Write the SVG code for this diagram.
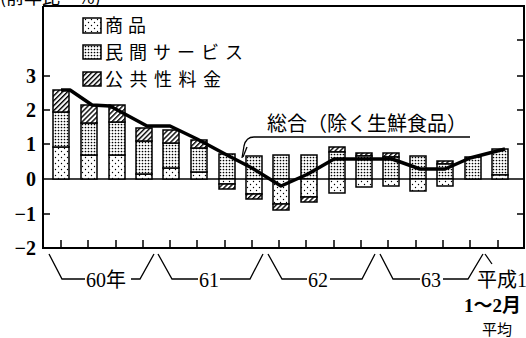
<svg xmlns="http://www.w3.org/2000/svg" width="526" height="338" viewBox="0 0 526 338">
<defs>
<pattern id="pLight" width="6" height="6" patternUnits="userSpaceOnUse">
<rect width="6" height="6" fill="#fff"/>
<circle cx="1.5" cy="1.5" r="0.7" fill="#000"/>
<circle cx="4.5" cy="4.5" r="0.7" fill="#000"/>
</pattern>
<pattern id="pDense" width="3" height="3" patternUnits="userSpaceOnUse">
<rect width="3" height="3" fill="#fff"/>
<circle cx="1.5" cy="1.5" r="0.85" fill="#000"/>
</pattern>
<pattern id="pHatch" width="3.5" height="3.5" patternUnits="userSpaceOnUse" patternTransform="rotate(45)">
<rect width="3.5" height="3.5" fill="#fff"/>
<rect x="0" y="0" width="1.4" height="3.5" fill="#000"/>
</pattern>
</defs>
<style>
.ax{stroke:#000;stroke-width:2;fill:none}
.tk{stroke:#000;stroke-width:1.5;fill:none}
.thin{stroke:#000;stroke-width:1.3;fill:none}
.seg{stroke:#000;stroke-width:1.5}
.l{fill:url(#pLight)}
.d{fill:url(#pDense)}
.h{fill:url(#pHatch)}
.num{font-family:"Liberation Serif",serif;font-size:20px;font-weight:bold;fill:#000}
.jp{font-family:"Noto Sans CJK JP",sans-serif;font-size:18px;fill:#000}
.lbl{font-family:"Liberation Serif","Noto Sans CJK JP",serif;font-size:20px;fill:#000}
</style>
<rect width="526" height="338" fill="#fff"/>

<text class="jp" x="0" y="4" style="font-size:18px">(前年比・%)</text>

<g id="axes">
<path class="ax" d="M43,6 V248 H524 V6 H43"/>
<path class="thin" d="M43,179 H524"/>
<path class="tk" d="M43,76 H50 M43,110 H50 M43,144 H50 M43,214 H50"/>
<path class="tk" d="M524,40 H517 M524,76 H517 M524,110 H517 M524,144 H517 M524,214 H517"/>
<path class="tk" d="M61,248 V240 M88,248 V240 M116,248 V240 M143,248 V240 M170,248 V240 M197,248 V240 M225,248 V240 M252,248 V240 M279,248 V240 M306,248 V240 M334,248 V240 M361,248 V240 M388,248 V240 M416,248 V240 M443,248 V240 M470,248 V240 M498,248 V240"/>
<text class="num" x="36" y="83" text-anchor="end">3</text>
<text class="num" x="36" y="117" text-anchor="end">2</text>
<text class="num" x="36" y="151" text-anchor="end">1</text>
<text class="num" x="36" y="186" text-anchor="end">0</text>
<text class="num" x="36" y="221" text-anchor="end">−1</text>
<text class="num" x="36" y="255" text-anchor="end">−2</text>
</g>

<g id="legend">
<rect class="l seg" x="83" y="18" width="18" height="15"/>
<text class="jp" x="105" y="32" letter-spacing="5">商品</text>
<rect class="d seg" x="83" y="45" width="18" height="14"/>
<text class="jp" x="105" y="59" letter-spacing="6">民間サービス</text>
<rect class="h seg" x="83" y="72" width="18" height="14"/>
<text class="jp" x="105" y="86" letter-spacing="6.5">公共性料金</text>
</g>

<g id="bars">
<g id="b1"><rect class="l seg" x="53" y="147" width="16" height="32"/><rect class="d seg" x="53" y="112" width="16" height="35"/><rect class="h seg" x="53" y="90" width="16" height="22"/></g>
<g id="b2"><rect class="l seg" x="81" y="155" width="16" height="24"/><rect class="d seg" x="81" y="123" width="16" height="32"/><rect class="h seg" x="81" y="105" width="16" height="18"/></g>
<g id="b3"><rect class="l seg" x="109" y="155" width="16" height="24"/><rect class="d seg" x="109" y="122" width="16" height="33"/><rect class="h seg" x="109" y="105" width="16" height="17"/></g>
<g id="b4"><rect class="l seg" x="136" y="174" width="16" height="5"/><rect class="d seg" x="136" y="141" width="16" height="33"/><rect class="h seg" x="136" y="128" width="16" height="13"/></g>
<g id="b5"><rect class="l seg" x="163" y="168" width="16" height="11"/><rect class="d seg" x="163" y="143" width="16" height="25"/><rect class="h seg" x="163" y="130" width="16" height="13"/></g>
<g id="b6"><rect class="l seg" x="191" y="172" width="16" height="7"/><rect class="d seg" x="191" y="148" width="16" height="24"/><rect class="h seg" x="191" y="140" width="16" height="8"/></g>
<g id="b7"><rect class="d seg" x="219" y="154" width="16" height="25"/><rect class="l seg" x="219" y="179" width="16" height="5"/><rect class="h seg" x="219" y="184" width="16" height="5"/></g>
<g id="b8"><rect class="d seg" x="246" y="156" width="16" height="23"/><rect class="l seg" x="246" y="179" width="16" height="15"/><rect class="h seg" x="246" y="194" width="16" height="5"/></g>
<g id="b9"><rect class="d seg" x="273" y="155" width="16" height="24"/><rect class="l seg" x="273" y="179" width="16" height="25"/><rect class="h seg" x="273" y="204" width="16" height="6"/></g>
<g id="b10"><rect class="d seg" x="301" y="155" width="16" height="24"/><rect class="l seg" x="301" y="179" width="16" height="18"/><rect class="h seg" x="301" y="197" width="16" height="5"/></g>
<g id="b11"><rect class="h seg" x="329" y="147" width="16" height="5"/><rect class="d seg" x="329" y="152" width="16" height="27"/><rect class="l seg" x="329" y="179" width="16" height="14"/></g>
<g id="b12"><rect class="h seg" x="356" y="153" width="16" height="3"/><rect class="d seg" x="356" y="156" width="16" height="23"/><rect class="l seg" x="356" y="179" width="16" height="8"/></g>
<g id="b13"><rect class="h seg" x="383" y="153" width="16" height="4"/><rect class="d seg" x="383" y="157" width="16" height="22"/><rect class="l seg" x="383" y="179" width="16" height="7"/></g>
<g id="b14"><rect class="d seg" x="410" y="156" width="16" height="23"/><rect class="l seg" x="410" y="179" width="16" height="12"/></g>
<g id="b15"><rect class="h seg" x="437" y="161" width="16" height="3"/><rect class="d seg" x="437" y="164" width="16" height="15"/><rect class="l seg" x="437" y="179" width="16" height="7"/></g>
<g id="b16"><rect class="d seg" x="465" y="157" width="16" height="22"/></g>
<g id="b17"><rect class="d seg" x="492" y="149" width="16" height="26"/><rect class="l seg" x="492" y="175" width="16" height="4"/></g>
</g>

<g id="connectors">
<polyline points="61,90 70,90 92,105 110,106 147,126 170,126 197,139 225,154 252,168 281,186 308,174 334,159 361,159 392,159 420,169 445,169 470,158 505,149" fill="none" stroke="#000" stroke-width="3.5" stroke-linejoin="round"/>
<path class="thin" d="M470,137 H254 Q246,137 244,146 L242,158"/>
<path class="thin" d="M247,147 L243,157"/>
</g>

<g id="total-label">
<text class="jp" x="267" y="131" style="font-size:20px">総合（除く生鮮食品）</text>
</g>

<g id="xlabels">
<path class="thin" d="M49,254 L62,279 H85 M131,279 H140 L154,254"/>
<text class="lbl" x="86" y="287">60年</text>
<path class="thin" d="M158,254 L172,279 H198 M220,279 H250 L263,254"/>
<text class="lbl" x="199" y="287">61</text>
<path class="thin" d="M268,254 L282,279 H307 M330,279 H362 L375,254"/>
<text class="lbl" x="308" y="287">62</text>
<path class="thin" d="M380,254 L393,279 H420 M443,279 H468 L483,254"/>
<text class="lbl" x="421" y="287">63</text>
<path class="thin" d="M485,254 L492,264"/>
<text class="lbl" x="477" y="287">平成1</text>
<text class="lbl" x="464" y="312" font-weight="bold" style="font-size:19px">1～2月</text>
<text class="jp" x="482" y="335" style="font-size:15px">平均</text>
</g>
</svg>
